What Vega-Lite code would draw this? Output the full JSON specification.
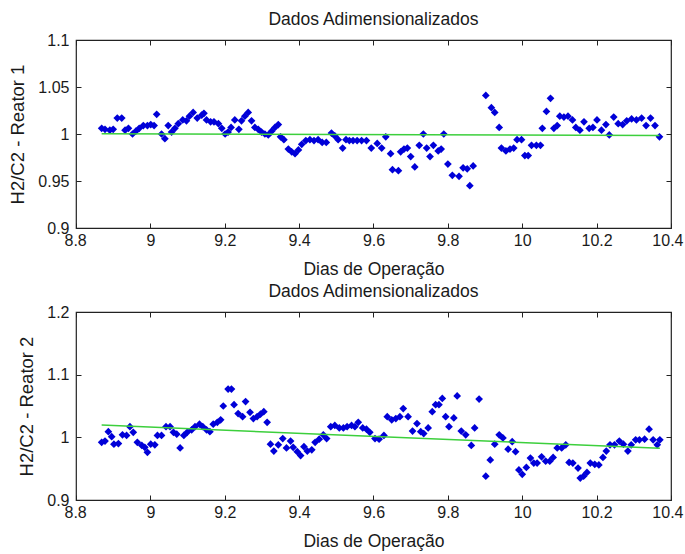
{
  "$schema": "https://vega.github.io/schema/vega-lite/v6.json",
  "background": "white",
  "padding": {"left": 8, "top": 9, "right": 2, "bottom": 2},
  "config": {
    "font": "Liberation Sans",
    "view": {"stroke": "#222", "strokeWidth": 1.2},
    "axis": {
      "grid": false,
      "domain": false,
      "ticks": false,
      "tickColor": "#222",
      "tickSize": 5,
      "labelColor": "#1a1a1a",
      "titleColor": "#1a1a1a",
      "labelFont": "Liberation Sans",
      "titleFont": "Liberation Sans",
      "labelFontSize": 16,
      "titleFontSize": 17.5,
      "titleFontWeight": "normal",
      "labelFlush": true,
      "labelFlushOffset": 12,
      "labelOverlap": false
    },
    "title": {"font": "Liberation Sans", "fontSize": 17.5, "fontWeight": "normal", "color": "#1a1a1a", "offset": 4}
  },
  "datasets": {
    "reator1": [
      {"t":8.869,"v":1.006},{"t":8.878,"v":1.005},{"t":8.891,"v":1.004},{"t":8.900,"v":1.005},{"t":8.911,"v":1.017},{"t":8.923,"v":1.017},
      {"t":8.932,"v":1.004},{"t":8.941,"v":1.006},{"t":8.952,"v":1.000},{"t":8.961,"v":1.003},{"t":8.970,"v":1.006},{"t":8.981,"v":1.009},
      {"t":8.992,"v":1.009},{"t":9.001,"v":1.010},{"t":9.010,"v":1.009},{"t":9.017,"v":1.021},{"t":9.030,"v":1.000},{"t":9.039,"v":0.995},
      {"t":9.048,"v":1.009},{"t":9.057,"v":1.002},{"t":9.066,"v":1.006},{"t":9.075,"v":1.011},{"t":9.087,"v":1.015},{"t":9.097,"v":1.014},
      {"t":9.105,"v":1.019},{"t":9.115,"v":1.023},{"t":9.126,"v":1.017},{"t":9.138,"v":1.020},{"t":9.144,"v":1.022},{"t":9.151,"v":1.015},
      {"t":9.162,"v":1.013},{"t":9.171,"v":1.013},{"t":9.183,"v":1.011},{"t":9.192,"v":1.006},{"t":9.201,"v":1.000},{"t":9.209,"v":1.002},
      {"t":9.217,"v":1.007},{"t":9.227,"v":1.015},{"t":9.238,"v":1.005},{"t":9.245,"v":1.014},{"t":9.254,"v":1.019},{"t":9.263,"v":1.023},
      {"t":9.272,"v":1.014},{"t":9.281,"v":1.007},{"t":9.290,"v":1.005},{"t":9.299,"v":1.002},{"t":9.308,"v":1.000},{"t":9.317,"v":0.999},
      {"t":9.326,"v":1.003},{"t":9.335,"v":1.007},{"t":9.344,"v":1.010},{"t":9.350,"v":0.997},{"t":9.359,"v":0.994},{"t":9.371,"v":0.984},
      {"t":9.380,"v":0.981},{"t":9.389,"v":0.979},{"t":9.398,"v":0.983},{"t":9.407,"v":0.989},{"t":9.418,"v":0.993},{"t":9.429,"v":0.994},
      {"t":9.440,"v":0.993},{"t":9.451,"v":0.994},{"t":9.462,"v":0.991},{"t":9.473,"v":0.991},{"t":9.487,"v":1.001},{"t":9.496,"v":0.998},
      {"t":9.505,"v":0.994},{"t":9.517,"v":0.985},{"t":9.526,"v":0.994},{"t":9.535,"v":0.993},{"t":9.545,"v":0.993},{"t":9.556,"v":0.993},
      {"t":9.568,"v":0.993},{"t":9.581,"v":0.993},{"t":9.594,"v":0.985},{"t":9.610,"v":0.990},{"t":9.622,"v":0.985},{"t":9.633,"v":0.997},
      {"t":9.646,"v":0.979},{"t":9.651,"v":0.962},{"t":9.667,"v":0.961},{"t":9.673,"v":0.981},{"t":9.682,"v":0.984},{"t":9.691,"v":0.985},
      {"t":9.700,"v":0.976},{"t":9.711,"v":0.965},{"t":9.723,"v":0.988},{"t":9.734,"v":1.000},{"t":9.743,"v":0.985},{"t":9.752,"v":0.976},
      {"t":9.761,"v":0.988},{"t":9.774,"v":0.982},{"t":9.782,"v":0.984},{"t":9.789,"v":1.000},{"t":9.800,"v":0.968},{"t":9.812,"v":0.956},
      {"t":9.830,"v":0.955},{"t":9.841,"v":0.964},{"t":9.852,"v":0.963},{"t":9.859,"v":0.945},{"t":9.868,"v":0.966},{"t":9.902,"v":1.041},
      {"t":9.917,"v":1.028},{"t":9.926,"v":1.023},{"t":9.938,"v":1.007},{"t":9.944,"v":0.985},{"t":9.956,"v":0.982},{"t":9.967,"v":0.984},
      {"t":9.977,"v":0.985},{"t":9.986,"v":0.994},{"t":9.998,"v":0.994},{"t":10.007,"v":0.977},{"t":10.016,"v":0.977},{"t":10.025,"v":0.988},
      {"t":10.038,"v":0.988},{"t":10.049,"v":0.988},{"t":10.054,"v":1.006},{"t":10.065,"v":1.024},{"t":10.076,"v":1.038},{"t":10.085,"v":1.006},
      {"t":10.094,"v":1.009},{"t":10.101,"v":1.019},{"t":10.112,"v":1.018},{"t":10.123,"v":1.019},{"t":10.135,"v":1.015},{"t":10.144,"v":1.007},
      {"t":10.155,"v":1.004},{"t":10.166,"v":1.013},{"t":10.180,"v":1.006},{"t":10.190,"v":1.007},{"t":10.201,"v":1.015},{"t":10.213,"v":1.004},
      {"t":10.225,"v":1.010},{"t":10.234,"v":0.999},{"t":10.246,"v":1.018},{"t":10.258,"v":1.011},{"t":10.270,"v":1.010},{"t":10.281,"v":1.014},
      {"t":10.294,"v":1.016},{"t":10.307,"v":1.015},{"t":10.321,"v":1.017},{"t":10.333,"v":1.009},{"t":10.345,"v":1.017},{"t":10.357,"v":1.009},
      {"t":10.369,"v":0.997}
    ],
    "ajuste1": [{"t":8.869,"v":1.0003},{"t":10.369,"v":0.9985}],
    "reator2": [
      {"t":8.869,"v":0.992},{"t":8.878,"v":0.994},{"t":8.887,"v":1.009},{"t":8.896,"v":1.001},{"t":8.902,"v":0.989},{"t":8.914,"v":0.990},
      {"t":8.925,"v":1.004},{"t":8.936,"v":1.003},{"t":8.945,"v":1.017},{"t":8.954,"v":1.008},{"t":8.965,"v":0.992},{"t":8.977,"v":0.987},
      {"t":8.985,"v":0.984},{"t":8.992,"v":0.976},{"t":9.001,"v":0.989},{"t":9.012,"v":0.988},{"t":9.019,"v":1.003},{"t":9.030,"v":1.003},
      {"t":9.042,"v":1.017},{"t":9.053,"v":1.017},{"t":9.062,"v":1.008},{"t":9.071,"v":1.005},{"t":9.080,"v":0.983},{"t":9.090,"v":1.003},
      {"t":9.099,"v":1.008},{"t":9.111,"v":1.012},{"t":9.120,"v":1.017},{"t":9.132,"v":1.021},{"t":9.141,"v":1.017},{"t":9.151,"v":1.012},
      {"t":9.160,"v":1.009},{"t":9.169,"v":1.021},{"t":9.180,"v":1.024},{"t":9.189,"v":1.028},{"t":9.196,"v":1.050},{"t":9.209,"v":1.077},
      {"t":9.218,"v":1.077},{"t":9.225,"v":1.052},{"t":9.236,"v":1.038},{"t":9.248,"v":1.033},{"t":9.256,"v":1.057},{"t":9.268,"v":1.040},
      {"t":9.277,"v":1.030},{"t":9.287,"v":1.033},{"t":9.296,"v":1.037},{"t":9.305,"v":1.041},{"t":9.314,"v":1.024},{"t":9.323,"v":0.989},
      {"t":9.332,"v":0.978},{"t":9.344,"v":0.988},{"t":9.356,"v":0.998},{"t":9.366,"v":0.983},{"t":9.377,"v":0.994},{"t":9.384,"v":0.984},
      {"t":9.395,"v":0.977},{"t":9.404,"v":0.971},{"t":9.413,"v":0.985},{"t":9.422,"v":0.978},{"t":9.434,"v":0.980},{"t":9.443,"v":0.992},
      {"t":9.454,"v":0.997},{"t":9.465,"v":1.004},{"t":9.474,"v":0.998},{"t":9.485,"v":1.017},{"t":9.496,"v":1.019},{"t":9.508,"v":1.015},
      {"t":9.519,"v":1.015},{"t":9.529,"v":1.017},{"t":9.541,"v":1.019},{"t":9.550,"v":1.017},{"t":9.559,"v":1.024},{"t":9.571,"v":1.015},
      {"t":9.581,"v":1.013},{"t":9.590,"v":1.008},{"t":9.604,"v":0.998},{"t":9.615,"v":0.997},{"t":9.628,"v":1.003},{"t":9.637,"v":1.033},
      {"t":9.649,"v":1.028},{"t":9.660,"v":1.030},{"t":9.671,"v":1.033},{"t":9.680,"v":1.046},{"t":9.693,"v":1.033},{"t":9.705,"v":1.010},
      {"t":9.717,"v":1.022},{"t":9.727,"v":1.009},{"t":9.735,"v":1.006},{"t":9.747,"v":1.015},{"t":9.758,"v":1.041},{"t":9.767,"v":1.052},
      {"t":9.776,"v":1.052},{"t":9.785,"v":1.062},{"t":9.794,"v":1.033},{"t":9.803,"v":1.017},{"t":9.816,"v":1.031},{"t":9.825,"v":1.066},
      {"t":9.836,"v":1.010},{"t":9.848,"v":1.004},{"t":9.863,"v":0.987},{"t":9.872,"v":1.015},{"t":9.884,"v":1.061},{"t":9.902,"v":0.938},
      {"t":9.914,"v":0.964},{"t":9.926,"v":0.989},{"t":9.938,"v":1.004},{"t":9.948,"v":0.999},{"t":9.962,"v":0.981},{"t":9.973,"v":0.993},
      {"t":9.982,"v":0.977},{"t":9.991,"v":0.948},{"t":10.000,"v":0.941},{"t":10.011,"v":0.952},{"t":10.022,"v":0.967},{"t":10.031,"v":0.959},
      {"t":10.040,"v":0.959},{"t":10.052,"v":0.969},{"t":10.063,"v":0.962},{"t":10.074,"v":0.962},{"t":10.083,"v":0.968},{"t":10.094,"v":0.983},
      {"t":10.106,"v":0.983},{"t":10.117,"v":0.988},{"t":10.126,"v":0.960},{"t":10.136,"v":0.959},{"t":10.150,"v":0.951},{"t":10.156,"v":0.935},
      {"t":10.165,"v":0.938},{"t":10.174,"v":0.944},{"t":10.183,"v":0.959},{"t":10.195,"v":0.957},{"t":10.206,"v":0.956},{"t":10.217,"v":0.968},
      {"t":10.226,"v":0.978},{"t":10.236,"v":0.988},{"t":10.248,"v":0.988},{"t":10.261,"v":0.994},{"t":10.272,"v":0.989},{"t":10.284,"v":0.978},
      {"t":10.293,"v":0.988},{"t":10.305,"v":0.996},{"t":10.315,"v":0.996},{"t":10.329,"v":0.997},{"t":10.341,"v":1.013},{"t":10.352,"v":0.996},
      {"t":10.363,"v":0.988},{"t":10.370,"v":0.996}
    ],
    "ajuste2": [{"t":8.869,"v":1.0196},{"t":10.370,"v":0.9825}]
  },
  "vconcat": [
    {
      "width": 595,
      "height": 188,
      "title": "Dados Adimensionalizados",
      "resolve": {"axis": {"x": "independent", "y": "independent"}},
      "layer": [
        {
          "data": {"name": "reator1"},
          "mark": {"type": "point", "shape": "diamond", "filled": true, "size": 60, "color": "#0000d8", "opacity": 1},
          "encoding": {
            "x": {"field": "t", "type": "quantitative", "scale": {"domain": [8.8, 10.4], "nice": false, "zero": false},
                  "axis": {"orient": "bottom", "values": [8.8, 9, 9.2, 9.4, 9.6, 9.8, 10, 10.2, 10.4], "format": "~g", "title": "Dias de Operação", "labelPadding": 4, "titlePadding": 12}},
            "y": {"field": "v", "type": "quantitative", "scale": {"domain": [0.9, 1.1], "nice": false, "zero": false},
                  "axis": {"orient": "left", "values": [0.9, 0.95, 1, 1.05, 1.1], "format": "~g", "labelFlush": false, "title": "H2/C2 - Reator 1", "titleFontSize": 18.5, "labelPadding": 7, "titlePadding": 10}}
          }
        },
        {
          "data": {"name": "ajuste1"},
          "mark": {"type": "line", "color": "#3ccf3c", "strokeWidth": 1.5},
          "encoding": {
            "x": {"field": "t", "type": "quantitative", "axis": {"orient": "top", "offset": -188, "ticks": true, "labels": false, "title": null, "values": [8.8, 9, 9.2, 9.4, 9.6, 9.8, 10, 10.2, 10.4]}},
            "y": {"field": "v", "type": "quantitative", "axis": {"orient": "right", "offset": -595, "ticks": true, "labels": false, "title": null, "values": [0.9, 0.95, 1, 1.05, 1.1]}}
          }
        },
        {
          "data": {"name": "ajuste1"},
          "mark": {"type": "line", "opacity": 0},
          "encoding": {
            "x": {"field": "t", "type": "quantitative", "axis": {"orient": "bottom", "offset": -188, "ticks": true, "labels": false, "title": null, "values": [8.8, 9, 9.2, 9.4, 9.6, 9.8, 10, 10.2, 10.4]}},
            "y": {"field": "v", "type": "quantitative", "axis": {"orient": "left", "offset": -595, "ticks": true, "labels": false, "title": null, "values": [0.9, 0.95, 1, 1.05, 1.1]}}
          }
        }
      ]
    },
    {
      "width": 595,
      "height": 188,
      "title": "Dados Adimensionalizados",
      "resolve": {"axis": {"x": "independent", "y": "independent"}},
      "layer": [
        {
          "data": {"name": "reator2"},
          "mark": {"type": "point", "shape": "diamond", "filled": true, "size": 60, "color": "#0000d8", "opacity": 1},
          "encoding": {
            "x": {"field": "t", "type": "quantitative", "scale": {"domain": [8.8, 10.4], "nice": false, "zero": false},
                  "axis": {"orient": "bottom", "values": [8.8, 9, 9.2, 9.4, 9.6, 9.8, 10, 10.2, 10.4], "format": "~g", "title": "Dias de Operação", "labelPadding": 4, "titlePadding": 12}},
            "y": {"field": "v", "type": "quantitative", "scale": {"domain": [0.9, 1.2], "nice": false, "zero": false},
                  "axis": {"orient": "left", "values": [0.9, 1, 1.1, 1.2], "format": "~g", "labelFlush": false, "title": "H2/C2 - Reator 2", "titleFontSize": 18.5, "labelPadding": 7, "titlePadding": 10}}
          }
        },
        {
          "data": {"name": "ajuste2"},
          "mark": {"type": "line", "color": "#3ccf3c", "strokeWidth": 1.5},
          "encoding": {
            "x": {"field": "t", "type": "quantitative", "axis": {"orient": "top", "offset": -188, "ticks": true, "labels": false, "title": null, "values": [8.8, 9, 9.2, 9.4, 9.6, 9.8, 10, 10.2, 10.4]}},
            "y": {"field": "v", "type": "quantitative", "axis": {"orient": "right", "offset": -595, "ticks": true, "labels": false, "title": null, "values": [0.9, 1, 1.1, 1.2]}}
          }
        },
        {
          "data": {"name": "ajuste2"},
          "mark": {"type": "line", "opacity": 0},
          "encoding": {
            "x": {"field": "t", "type": "quantitative", "axis": {"orient": "bottom", "offset": -188, "ticks": true, "labels": false, "title": null, "values": [8.8, 9, 9.2, 9.4, 9.6, 9.8, 10, 10.2, 10.4]}},
            "y": {"field": "v", "type": "quantitative", "axis": {"orient": "left", "offset": -595, "ticks": true, "labels": false, "title": null, "values": [0.9, 1, 1.1, 1.2]}}
          }
        }
      ]
    }
  ],
  "spacing": 2
}
